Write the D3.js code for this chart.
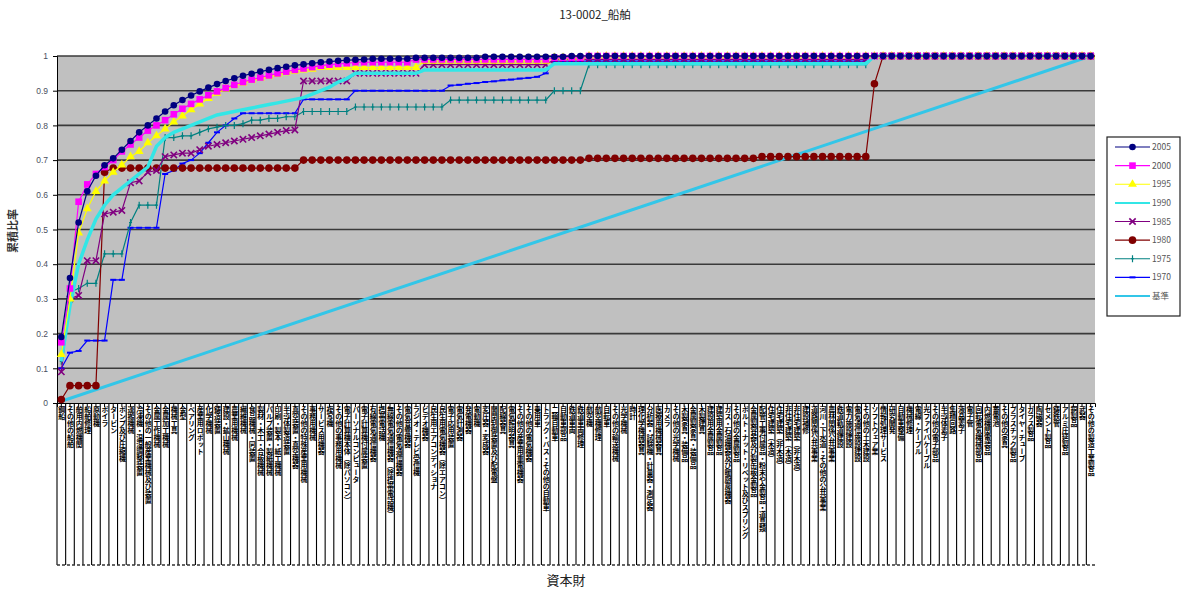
<!DOCTYPE html>
<html>
<head>
<meta charset="utf-8">
<script src="https://cdn.jsdelivr.net/npm/d3@7"></script>
<style>
  body { margin: 0; background: #fff; }
  svg { display: block; font-family: "Noto Sans CJK JP", "Noto Sans", sans-serif; }
</style>
</head>
<body>
<div id="chart"></div>
<script>
// ---- data ----
const title = "13-0002_船舶"
const yTitle = "累積比率"
const xTitle = "資本財"
const yTicks = [0, 0.1, 0.2, 0.3, 0.4, 0.5, 0.6, 0.7, 0.8, 0.9, 1]

const categories = [
  "鋼船", "その他の船舶", "舶用内燃機関", "船舶修理", "原動機", "ボイラ", "タービン", "ポンプ及び圧縮機",
  "運搬機械", "冷凍機・温湿調整装置", "その他の一般産業機械及び装置", "金属工作機械", "金属加工機械", "機械工具",
  "金型", "ベアリング", "産業用ロボット", "化学機械", "鋳造装置", "建設・鉱山機械", "農業用機械", "繊維機械",
  "食品機械・同装置", "製材・木工・合板機械", "パルプ装置・製紙機械", "印刷・製本・紙工機械", "半導体製造装置",
  "真空装置・真空機器", "その他の特殊産業用機械", "事務用機械", "サービス用機器", "複写機", "その他の事務用機械",
  "電子計算機本体（除パソコン）", "パーソナルコンピュータ", "電子計算機付属装置", "有線電気通信機器", "携帯電話機",
  "無線電気通信機器（除携帯電話機）", "その他の電気通信機器", "電気音響機器", "ラジオ・テレビ受信機", "ビデオ機器",
  "民生用エアコンディショナ", "民生用電気機器（除エアコン）", "電子応用装置", "電気計測器", "発電機器", "電動機",
  "変圧器・変成器", "開閉制御装置及び配電盤", "配線器具", "電気照明器具", "その他の産業用重電機器", "その他の電気機器",
  "乗用車", "トラック・バス・その他の自動車", "二輪自動車", "自動車部品", "鉄道車両", "鉄道車両修理", "航空機",
  "航空機修理", "自転車", "その他の輸送機械", "光学機械", "時計", "理化学機械器具", "分析器・試験機・計量器・測定器",
  "医療用機械器具", "カメラ", "その他の光学機械", "木製家具・装備品", "金属製家具・装備品", "木製建具",
  "建設用金属製品", "建築用金属製品", "ガス・石油機器及び暖厨房機器", "その他の金属製品",
  "ボルト・ナット・リベット及びスプリング", "金属製容器及び製缶板金製品", "配管工事付属品・粉末や金製品・道具類",
  "住宅建築（木造）", "住宅建築（非木造）", "非住宅建築（木造）", "非住宅建築（非木造）", "建設補修",
  "道路関係公共事業", "河川・下水道・その他の公共事業", "農林関係公共事業", "鉄道軌道建設", "電力施設建設",
  "電気通信施設建設", "その他の土木建設", "ソフトウェア業", "情報処理サービス", "研究開発", "自動車整備", "機械修理",
  "電線・ケーブル", "光ファイバケーブル", "その他の電子部品", "半導体素子", "集積回路", "液晶素子", "電子管",
  "回転電気機械部品", "内燃機関電装品", "蓄電池", "その他の家具", "プラスチック製品", "タイヤ・チューブ",
  "ガラス製品", "陶磁器", "セメント製品", "鋳鉄管", "アルミ圧延製品", "銅製品", "武器", "その他の製造工業製品"
]

// values; [v, n] = the same value for n categories in a row
const expand = a => a.flatMap(v => Array.isArray(v) ? Array(v[1]).fill(v[0]) : [v])

const s2005 = expand([0.19, 0.36, 0.52, 0.61, 0.655, 0.685, 0.705, 0.73, 0.755, 0.78,
  0.80, 0.82, 0.84, 0.858, 0.873, 0.886, 0.898, 0.909, 0.919, 0.928,
  0.936, 0.943, 0.949, 0.955, 0.96, 0.965, 0.969, 0.973, 0.976, 0.979,
  0.982, 0.984, 0.986, 0.988, 0.989, 0.99, [0.992, 5], [0.995, 8], [0.998, 10], [1, 61]])

const s2000 = expand([0.175, 0.33, 0.58, 0.63, 0.66, 0.68, 0.70, 0.725, 0.745, 0.765,
  0.785, 0.80, 0.815, 0.832, 0.848, 0.862, 0.875, 0.887, 0.898, 0.908,
  0.917, 0.925, 0.932, 0.938, 0.944, 0.95, 0.955, 0.96, 0.964, 0.968,
  0.972, 0.975, 0.977, 0.979, [0.982, 7], [0.99, 16], [0.995, 4], [1, 59]])

const s1995 = expand([0.14, 0.30, 0.49, 0.56, 0.61, 0.64, 0.665, 0.686, 0.71, 0.725,
  0.75, 0.77, 0.79, 0.81, 0.827, 0.845, 0.862, 0.878, 0.893, 0.905,
  0.915, 0.922, 0.93, 0.936, 0.942, 0.947, 0.952, 0.956, 0.96, 0.962,
  [0.967, 12], [0.985, 15], [0.995, 4], [1, 59]])

const s1990 = expand([0.12, 0.28, 0.40, 0.47, 0.53, 0.57, 0.60, 0.62, 0.64, 0.66,
  0.68, 0.74, 0.765, 0.78, 0.79, 0.80, 0.81, 0.82, 0.83, 0.835,
  0.84, 0.845, 0.85, 0.855, 0.86, 0.865, 0.87, 0.875, 0.88, 0.89,
  0.90, 0.91, 0.925, 0.935, [0.95, 8], [0.96, 15], [0.978, 37], [1, 26]])

const s1985 = expand([0.09, 0.30, 0.31, 0.41, 0.41, 0.545, 0.55, 0.555, 0.635, 0.64,
  0.665, 0.67, 0.71, 0.715, 0.72, 0.72, 0.73, 0.74, 0.745, 0.75,
  0.755, 0.76, 0.765, 0.77, 0.775, 0.78, 0.785, 0.787,
  [0.928, 6], [0.95, 8], [0.975, 15], [0.99, 37], [1, 26]])

const s1980 = expand([0.01, 0.05, 0.05, 0.05, 0.05, 0.665, [0.677, 22],
  [0.70, 33], [0.705, 20], [0.71, 13], 0.92, [1, 25]])

const s1975 = expand([0.12, 0.32, 0.33, 0.345, 0.345, 0.43, 0.43, 0.43, 0.52, 0.57,
  0.57, 0.57, 0.765, 0.765, 0.77, 0.77, 0.78, 0.79, 0.795, 0.80,
  0.80, 0.805, 0.815, 0.815, 0.82, 0.82, 0.825, 0.825,
  [0.84, 6], [0.853, 11], [0.873, 12], [0.90, 4], [0.975, 33], [1, 26]])

const s1970 = expand([0.10, 0.145, 0.15, 0.18, 0.18, 0.18, 0.355, 0.355, 0.505, 0.505,
  0.505, 0.505, 0.66, 0.67, 0.69, 0.70, 0.72, 0.75, 0.78, 0.80,
  0.82, 0.835, [0.835, 6], [0.875, 6], [0.90, 11],
  0.915, 0.917, 0.92, 0.922, 0.925, 0.927, 0.93, 0.932, 0.935, 0.937, 0.94, 0.95,
  [0.985, 37], [1, 26]])

// 基準: straight line, first and last category
const baseline = [0.005, 1]

const seriesNames = ["2005", "2000", "1995", "1990", "1985", "1980", "1975", "1970", "基準"]
const seriesValues = [s2005, s2000, s1995, s1990, s1985, s1980, s1975, s1970]
const colors = ["#000080", "#ff00ff", "#ffff00", "#33e6e6", "#800080", "#800000", "#008080", "#0000ff", "#33c6e8"]
const markers = ["circle", "square", "triangle", "none", "x", "bigcircle", "plus", "dash", "none"]
const widths = [1.2, 1.2, 1.2, 3.5, 1.2, 1.2, 1.2, 1.2, 3]

// ---- layout ----
const width = 1200, height = 593
const margin = {top: 56, left: 57, right: 105, bottom: 190}
const plotBottom = height - margin.bottom   // 403
const plotRight = width - margin.right      // 1095
const labelBottom = 565

const svg = d3.select("#chart").append("svg")
  .attr("width", width).attr("height", height)

const x = d3.scaleBand()
  .domain(categories)
  .range([margin.left, plotRight])

const y = d3.scaleLinear()
  .domain([0, 1])
  .range([plotBottom, margin.top])

const cx = c => x(c) + x.bandwidth() / 2

// plot background
svg.append("rect")
  .attr("x", margin.left).attr("y", margin.top)
  .attr("width", plotRight - margin.left).attr("height", plotBottom - margin.top)
  .attr("fill", "#c0c0c0")

// gridlines
svg.append("g")
  .selectAll("line")
  .data(yTicks.filter(d => d > 0))
  .join("line")
  .attr("x1", margin.left).attr("x2", plotRight)
  .attr("y1", d => y(d)).attr("y2", d => y(d))
  .attr("stroke", "#3a3a3a").attr("stroke-width", 1.6)

// y axis
const yAxis = g => g
  .attr("transform", `translate(${margin.left},0)`)
  .call(d3.axisLeft(y).tickValues(yTicks).tickSize(4).tickFormat(d => d === 0 || d === 1 ? d : d.toFixed(1)))
  .call(g => g.select(".domain").attr("stroke", "#000"))
  .call(g => g.selectAll(".tick text").attr("fill", "#4a5060").attr("font-size", 8.5).attr("x", -9))

svg.append("g").call(yAxis)

// category labels
const labels = svg.append("g")
const clip = svg.append("clipPath").attr("id", "labclip")
clip.append("rect").attr("x", margin.left - 5).attr("y", plotBottom)
  .attr("width", plotRight - margin.left + 10).attr("height", labelBottom - plotBottom)

labels.attr("clip-path", "url(#labclip)")
labels.selectAll("line")
  .data(categories)
  .join("line")
  .attr("x1", d => x(d)).attr("x2", d => x(d))
  .attr("y1", plotBottom).attr("y2", labelBottom)
  .attr("stroke", "#000").attr("stroke-width", 1.1)

labels.selectAll("text")
  .data(categories)
  .join("text")
  .attr("x", d => cx(d) + 0.5)
  .attr("y", plotBottom + 3)
  .attr("font-size", 7)
  .attr("font-weight", "bold")
  .attr("fill", "#000")
  .style("writing-mode", "vertical-rl")
  .style("text-orientation", "upright")
  .text(d => d)

// bottom tick row and x axis line
svg.append("line")
  .attr("x1", margin.left).attr("x2", plotRight)
  .attr("y1", labelBottom).attr("y2", labelBottom)
  .attr("stroke", "#333").attr("stroke-width", 1.5).attr("stroke-dasharray", "3,2")

svg.append("g")
  .attr("transform", `translate(0,${plotBottom})`)
  .call(d3.axisBottom(x).tickSize(4).tickFormat(""))
  .call(g => g.select(".domain").attr("stroke", "#000"))

// marker drawing
const drawMarker = (g, type, color) => {
  if (type === "circle") g.append("circle").attr("r", 3.3).attr("fill", color)
  else if (type === "bigcircle") g.append("circle").attr("r", 3.8).attr("fill", color)
  else if (type === "square") g.append("rect").attr("x", -3.3).attr("y", -3.3).attr("width", 6.6).attr("height", 6.6).attr("fill", color)
  else if (type === "triangle") g.append("path").attr("d", d3.symbol(d3.symbolTriangle, 34)).attr("fill", color)
  else if (type === "x") g.append("path").attr("d", d3.symbol(d3.symbolX, 28)).attr("stroke", color).attr("stroke-width", 1.6).attr("fill", "none")
  else if (type === "plus") g.append("path").attr("d", "M0,-3.5V3.5M-1.5,0H1.5").attr("stroke", color).attr("stroke-width", 1.2)
  else if (type === "dash") g.append("path").attr("d", "M-3,0H3").attr("stroke", color).attr("stroke-width", 2)
}

// series, drawn back to front so 2005 is on top
const line = d3.line().x(d => cx(d.c)).y(d => y(d.v))
const plot = svg.append("g")

plot.append("path")
  .attr("d", line([{c: categories[0], v: baseline[0]}, {c: categories[categories.length - 1], v: baseline[1]}]))
  .attr("fill", "none").attr("stroke", colors[8]).attr("stroke-width", widths[8])

for (let k = seriesValues.length - 1; k >= 0; k--) {
  const pts = seriesValues[k].map((v, i) => ({c: categories[i], v}))
  const g = plot.append("g")
  g.append("path")
    .attr("d", line(pts))
    .attr("fill", "none").attr("stroke", colors[k]).attr("stroke-width", widths[k])
  if (markers[k] !== "none") {
    g.selectAll("g")
      .data(pts)
      .join("g")
      .attr("transform", d => `translate(${cx(d.c)},${y(d.v)})`)
      .each(function() { drawMarker(d3.select(this), markers[k], colors[k]) })
  }
}

// titles
svg.append("text")
  .attr("x", 595).attr("y", 19)
  .attr("text-anchor", "middle").attr("font-size", 11.5).attr("fill", "#222")
  .text(title)

svg.append("text")
  .attr("transform", "translate(17,231) rotate(-90)")
  .attr("text-anchor", "middle").attr("font-size", 11).attr("font-weight", "bold").attr("fill", "#333")
  .text(yTitle)

svg.append("text")
  .attr("x", 566).attr("y", 585)
  .attr("text-anchor", "middle").attr("font-size", 13).attr("fill", "#222")
  .text(xTitle)

// legend
const legend = svg.append("g")
legend.append("rect")
  .attr("x", 1107).attr("y", 137).attr("width", 73).attr("height", 179)
  .attr("fill", "#fff").attr("stroke", "#222").attr("stroke-width", 1.2)

const ly = d3.scalePoint().domain(seriesNames).range([147, 296])
const items = legend.selectAll("g")
  .data(seriesNames)
  .join("g")
  .attr("transform", d => `translate(1115,${ly(d)})`)

items.append("line")
  .attr("x1", 0).attr("x2", 35)
  .attr("stroke", (d, i) => colors[i]).attr("stroke-width", (d, i) => Math.min(widths[i], 2))
items.each(function(d, i) {
  const m = d3.select(this).append("g").attr("transform", "translate(17.5,0)")
  drawMarker(m, markers[i], colors[i])
})
items.append("text")
  .attr("x", 37).attr("y", 3)
  .attr("font-size", 8.5).attr("fill", "#555")
  .text(d => d)
</script>
</body>
</html>
